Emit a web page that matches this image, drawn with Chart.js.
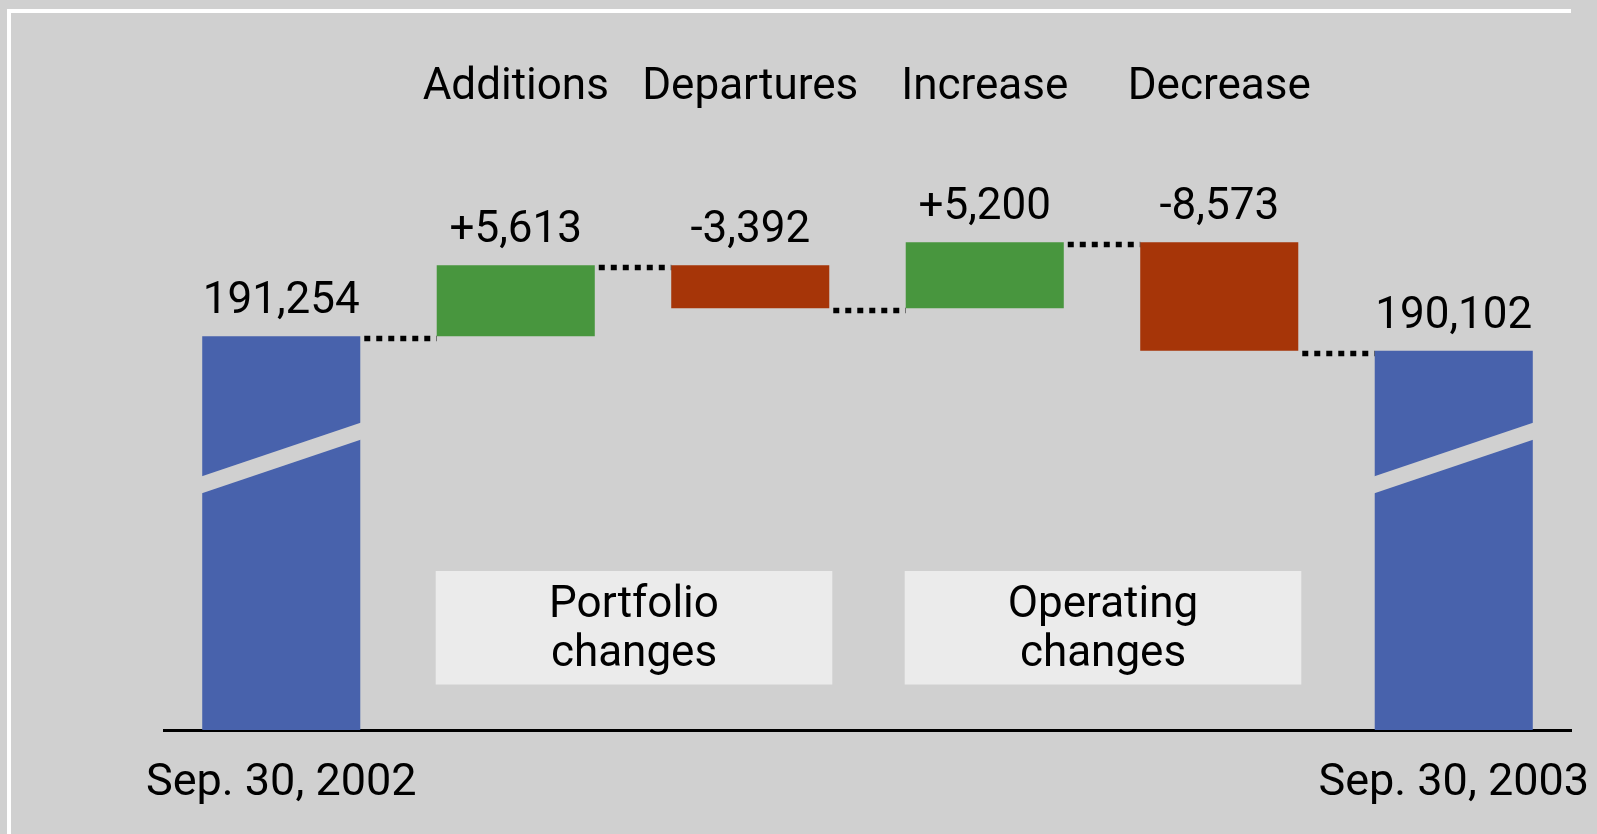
<!DOCTYPE html>
<html>
<head>
<meta charset="utf-8">
<script src="https://cdn.jsdelivr.net/npm/chart.js@4"></script>
<style>
    body { margin: 0; background: #d0d0d0; overflow: hidden; }
    #frame { position: absolute; left: 7px; top: 9px; width: 1560px; height: 840px;
             border-top: 4px solid #fff; border-left: 4px solid #fff; }
    #myChart { position: absolute; left: 0; top: 0; }
</style>
</head>
<body>
<div id="frame"></div>
<canvas id="myChart" width="1597" height="834"></canvas>
<script>
// data
let categories = ['Sep. 30, 2002', 'Additions', 'Departures', 'Increase', 'Decrease', 'Sep. 30, 2003'];
let startTotal = 191254;
let changes = [5613, -3392, 5200, -8573];
let endTotal = 190102;
let groupNames = [['Portfolio', 'changes'], ['Operating', 'changes']];
let groupSpans = [[1, 2], [3, 4]];

let yMin = 160130;
let yMax = 208790;

const BLUE = '#4862ac';
const GREEN = '#48963e';
const RED = '#a63508';
const FONT = 'Roboto';

// floating bars for the waterfall
let bars = [[yMin, startTotal]];
let colors = [BLUE];
let valueLabels = [startTotal.toLocaleString('en-US')];
let levels = [startTotal];
let running = startTotal;
changes.forEach(function (c) {
    bars.push([running, running + c]);
    running += c;
    levels.push(running);
    colors.push(c >= 0 ? GREEN : RED);
    valueLabels.push((c >= 0 ? '+' : '-') + Math.abs(c).toLocaleString('en-US'));
});
bars.push([yMin, endTotal]);
colors.push(BLUE);
valueLabels.push(endTotal.toLocaleString('en-US'));

const extras = {
    id: 'waterfallExtras',
    afterDatasetsDraw(chart) {
        const ctx = chart.ctx;
        const meta = chart.getDatasetMeta(0);
        const y = chart.scales.y;
        const area = chart.chartArea;
        ctx.save();

        // break marks on the total bars
        [0, meta.data.length - 1].forEach(function (i) {
            const b = meta.data[i];
            const l = b.x - b.width / 2 - 1, r = b.x + b.width / 2 + 1;
            const yl = area.bottom - 253.5, yr = area.bottom - 307.5;
            ctx.fillStyle = '#d0d0d0';
            ctx.beginPath();
            ctx.moveTo(l, yl);
            ctx.lineTo(r, yr);
            ctx.lineTo(r, yr + 17);
            ctx.lineTo(l, yl + 17);
            ctx.closePath();
            ctx.fill();
        });

        // dotted connectors
        ctx.strokeStyle = '#000';
        ctx.lineWidth = 5.5;
        ctx.setLineDash([6, 6]);
        for (let i = 0; i < levels.length; i++) {
            const a = meta.data[i], b = meta.data[i + 1];
            const py = Math.round(y.getPixelForValue(levels[i])) + 2.5;
            ctx.beginPath();
            ctx.moveTo(a.x + a.width / 2 + 4, py);
            ctx.lineTo(b.x - b.width / 2, py);
            ctx.stroke();
        }
        ctx.setLineDash([]);

        // value labels
        ctx.fillStyle = '#000';
        ctx.font = '44px ' + FONT;
        ctx.textAlign = 'center';
        ctx.textBaseline = 'alphabetic';
        meta.data.forEach(function (b, i) {
            const top = Math.min(b.y, b.base);
            ctx.fillText(valueLabels[i], b.x, top - 23);
        });

        // group boxes
        groupSpans.forEach(function (span, g) {
            const a = meta.data[span[0]], b = meta.data[span[1]];
            const l = a.x - a.width / 2 - 1, r = b.x + b.width / 2 + 3;
            const t = area.bottom - 159, h = 113.5;
            ctx.fillStyle = '#ebebeb';
            ctx.fillRect(l, t, r - l, h);
            ctx.fillStyle = '#000';
            ctx.fillText(groupNames[g][0], (l + r) / 2, t + 46);
            ctx.fillText(groupNames[g][1], (l + r) / 2, t + 95);
        });
        ctx.restore();
    }
};

let ctx = document.getElementById('myChart');
if (ctx !== null) {
    new Chart(ctx, {
        type: 'bar',
        data: {
            labels: categories,
            datasets: [{
                data: bars,
                backgroundColor: colors,
                borderWidth: 0,
                barPercentage: 0.674,
                categoryPercentage: 1
            }]
        },
        options: {
            responsive: false,
            animation: false,
            layout: { padding: { left: 164, right: 26, top: 62, bottom: 28 } },
            plugins: { legend: { display: false }, tooltip: { enabled: false } },
            scales: {
                x: {
                    position: 'bottom',
                    grid: { display: false },
                    border: { display: true, color: '#000', width: 3 },
                    ticks: {
                        color: '#000',
                        font: { family: FONT, size: 45 },
                        padding: 19,
                        autoSkip: false,
                        maxRotation: 0,
                        callback: function (v, i) {
                            return (i === 0 || i === categories.length - 1) ? categories[i] : '';
                        }
                    },
                    afterFit: function (s) {
                        s.height = 76;
                        s.paddingLeft = 0;
                        s.paddingRight = 0;
                    }
                },
                xTop: {
                    type: 'category',
                    position: 'top',
                    labels: categories,
                    grid: { display: false, drawTicks: false },
                    border: { display: false },
                    ticks: {
                        color: '#000',
                        font: { family: FONT, size: 44 },
                        padding: 0,
                        autoSkip: false,
                        maxRotation: 0,
                        callback: function (v, i) {
                            return (i === 0 || i === categories.length - 1) ? '' : categories[i];
                        }
                    },
                    afterFit: function (s) {
                        s.height = 52.4;
                        s.paddingLeft = 0;
                        s.paddingRight = 0;
                    }
                },
                y: {
                    display: false,
                    min: yMin,
                    max: yMax
                }
            }
        },
        plugins: [extras]
    });
}
</script>
</body>
</html>
